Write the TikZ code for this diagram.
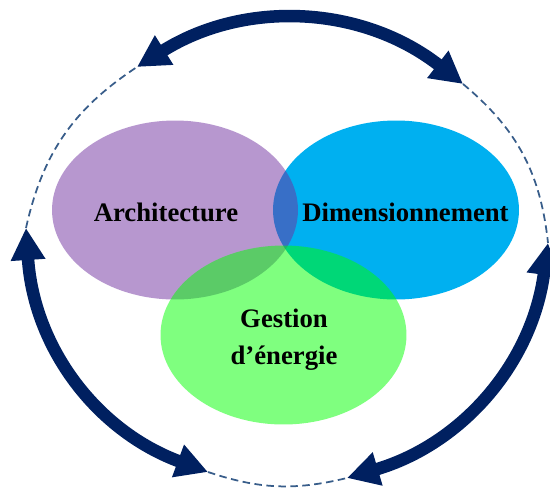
\documentclass[tikz,border=0pt]{standalone}
\usepackage{fontspec}
\setmainfont{Liberation Serif}
\usetikzlibrary{arrows.meta,shapes.geometric}
\definecolor{fleche}{HTML}{002060}
\definecolor{tirets}{HTML}{385D8A}
\begin{document}
\begin{tikzpicture}[x=0.02cm, y=-0.02cm]
\tikzstyle{bulle} = [ellipse, draw=none, fill opacity=0.5, inner sep=0, minimum width=4.92cm, minimum height=3.58cm];
\tikzstyle{titre} = [font=\fontsize{15.2}{21}\selectfont\bfseries, align=center, inner sep=0];
\tikzstyle{double} = [draw=fleche, line width=0.25cm, {Triangle[width=0.65cm,length=0.64cm]}-{Triangle[width=0.65cm,length=0.64cm]}];
\tikzstyle{pointille} = [draw=tirets, line width=0.035cm, dash pattern=on 0.15cm off 0.09cm];
\useasboundingbox (0, 0) rectangle (550, 494);

\node[bulle, fill={rgb,255:red,0;green,176;blue,240}, fill opacity=1] (dim) at (396, 210) { };
\node[bulle, fill={rgb,255:red,112;green,48;blue,160}] (archi) at (175, 210) { };
\node[bulle, fill={rgb,255:red,0;green,255;blue,0}] (gestion) at (283.5, 335) { };

\node[titre] (tarchi) at (166, 212) {Architecture};
\node[titre] (tdim) at (405.5, 212) {Dimensionnement};
\node[titre] (tgestion) at (284, 339.5) {Gestion\\d’énergie};

\coordinate (h1) at (137, 67);
\coordinate (h2) at (463, 84);
\coordinate (g1) at (26, 228);
\coordinate (g2) at (208, 472);
\coordinate (d1) at (548, 243);
\coordinate (d2) at (347, 478);

\draw[pointille] (g1) to[bend left=22] (h1);
\draw[pointille] (h2) to[bend left=22] (d1);
\draw[pointille] (g2) to[bend right=16] (d2);

\draw[double] (h1) to[bend left=35] (h2);
\draw[double] (g1) to[bend right=33] (g2);
\draw[double] (d1) to[bend left=33] (d2);
\end{tikzpicture}
\end{document}
